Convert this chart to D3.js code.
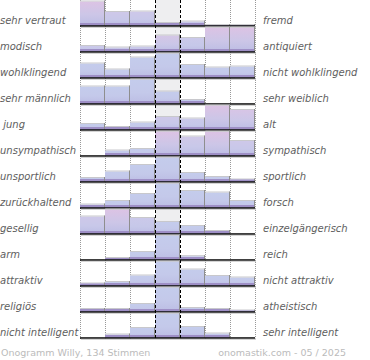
<!DOCTYPE html>
<html><head><meta charset="utf-8">
<script src="https://cdn.jsdelivr.net/npm/d3@7"></script>
<style>html,body{margin:0;padding:0;background:#fff;}svg{display:block;}</style>
</head><body>
<svg id="chart" width="370" height="360"></svg>
<script>
const leftLabels = ["sehr vertraut","modisch","wohlklingend","sehr männlich"," jung","unsympathisch","unsportlich","zurückhaltend","gesellig","arm","attraktiv","religiös","nicht intelligent"];
const rightLabels = ["fremd","antiquiert","nicht wohlklingend","sehr weiblich","alt","sympathisch","sportlich","forsch","einzelgängerisch","reich","nicht attraktiv","atheistisch","sehr intelligent"];
const scaleSteps = [1,2,3,4,5,6,7];
// relative vote shares per row (7 steps)
const row01 = [24, 13.5, 14, 2.5, 4, 0.4, 0.4];
const row02 = [5.5, 4, 5, 16, 13.5, 24, 24];
const row03 = [14, 8, 20, 24, 12.5, 10, 11];
const row04 = [17, 17, 24, 12, 3.5, 0, 0];
const row05 = [5.5, 2.5, 7, 12.5, 11, 24, 19.5];
const row06 = [0, 5, 6.5, 24, 19, 23.8, 14.5];
const row07 = [3.5, 10, 16.5, 24, 8.5, 4.5, 2];
const row08 = [3, 6.5, 13.5, 24, 16.5, 15, 6.5];
const row09 = [17, 24, 15.5, 11.5, 7.5, 2.5, 0];
const row10 = [0, 1.5, 7.5, 24, 3.3, 0, 0];
const row11 = [2, 3.5, 10, 24, 16, 9.5, 8];
const row12 = [2.5, 2.5, 7.5, 24, 3.5, 2.5, 1];
const row13 = [0, 3, 9.5, 24, 10.5, 4, 0];
const rows = [row01,row02,row03,row04,row05,row06,row07,row08,row09,row10,row11,row12,row13];
// pink tint of each bar (0 = blue, 1 = pink)
const tints = [
  [1,.4,.4,0,.3,0,0],[.3,.3,.3,.7,.3,1,1],[0,0,0,0,0,0,0],[0,0,0,0,0,0,0],
  [0,0,0,.4,.3,1,.8],[0,0,0,1,.5,1,.4],[0,0,0,0,0,0,0],[0,0,0,0,0,0,0],
  [.4,1,.3,0,0,0,0],[0,0,0,0,0,0,0],[0,0,0,0,0,0,0],[0,0,0,0,0,0,0],[0,0,0,0,0,0,0]];
const footerLeft = "Onogramm Willy, 134 Stimmen";
const footerRight = "onomastik.com - 05 / 2025";

const svg = d3.select("#chart");
const x0 = 80, x1 = 255, rowH = 26, firstBase = 25.5, barMax = 24;
const x = d3.scaleBand().domain(scaleSteps).range([x0, x1]).padding(0);
const rowY = d3.scaleLinear().domain([0, rows.length-1]).range([firstBase, firstBase + rowH*(rows.length-1)]);
const bottom = rowY(rows.length-1);

const defs = svg.append("defs");
const pinkTop = d3.color("#dcc3e4"), blueTop = d3.color("#c4ccec"), mid = d3.color("#c4c8e9");
function gradId(t){
  const id = "g" + Math.round(t*10);
  if (defs.select("#"+id).empty()) {
    const g = defs.append("linearGradient").attr("id", id).attr("x1",0).attr("y1",0).attr("x2",0).attr("y2",1);
    const top = d3.interpolateRgb(blueTop, pinkTop)(t);
    g.append("stop").attr("offset","0%").attr("stop-color", top);
    g.append("stop").attr("offset","55%").attr("stop-color", d3.interpolateRgb(mid, top)(0.35));
    g.append("stop").attr("offset","100%").attr("stop-color", "#bcbde4");
  }
  return id;
}

// grey middle column
svg.append("rect").attr("x", x(4)).attr("y", 0).attr("width", x.bandwidth()).attr("height", bottom)
  .attr("fill", "#eeeef0");

// dotted grid
svg.selectAll(".grid").data([x0, x(2), x(3), x(6), x(7), x1]).join("line")
  .attr("x1", d => d + 0.5).attr("x2", d => d + 0.5).attr("y1", 0).attr("y2", bottom + 1)
  .attr("stroke", "#999").attr("stroke-dasharray", "1,1");

// bars
rows.forEach((vals, i) => {
  const base = rowY(i);
  const y = d3.scaleLinear().domain([0, d3.max(vals)]).range([base, base - barMax]);
  const g = svg.append("g");
  vals.forEach((v, j) => {
    if (v <= 0) return;
    const bx = x(scaleSteps[j]), bw = x.bandwidth(), top = y(v), h = base - top;
    g.append("rect").attr("x", bx).attr("y", top).attr("width", bw).attr("height", h)
      .attr("fill", `url(#${gradId(tints[i][j])})`);
    g.append("line").attr("x1", bx).attr("x2", bx + bw).attr("y1", top - 0.5).attr("y2", top - 0.5)
      .attr("stroke", "#c8c8cc");
    g.append("rect").attr("x", bx).attr("y", base - Math.min(2.5, h)).attr("width", bw).attr("height", Math.min(2.5, h))
      .attr("fill", "#9e8fc6");
    g.append("line").attr("x1", bx + bw - 0.5).attr("x2", bx + bw - 0.5).attr("y1", top - 1).attr("y2", base)
      .attr("stroke", "#8e8e8e");
  });
  // baseline
  svg.append("line").attr("x1", x0).attr("x2", x1).attr("y1", base + 0.5).attr("y2", base + 0.5)
    .attr("stroke", "#000").attr("stroke-width", 1.3);
  svg.append("line").attr("x1", x0 + 1).attr("x2", x1 + 1).attr("y1", base + 1.8).attr("y2", base + 1.8)
    .attr("stroke", "#bbb").attr("stroke-width", 0.8);
  // labels
  svg.append("text").attr("x", 0).attr("y", base - 2).text(leftLabels[i])
    .attr("font-family", "DejaVu Sans").attr("font-style", "italic").attr("font-size", 10)
    .attr("fill", "#5e5e5e").attr("xml:space", "preserve").style("white-space", "pre");
  svg.append("text").attr("x", 263).attr("y", base - 2).text(rightLabels[i])
    .attr("font-family", "DejaVu Sans").attr("font-style", "italic").attr("font-size", 10)
    .attr("fill", "#5e5e5e");
});

// dashed middle lines
svg.selectAll(".dash").data([x(4), x(5)]).join("line")
  .attr("x1", d => d + 0.5).attr("x2", d => d + 0.5).attr("y1", 0).attr("y2", bottom + 1)
  .attr("stroke", "#000").attr("stroke-dasharray", "3,2");

// footer
svg.append("text").attr("x", 1).attr("y", 356).text(footerLeft)
  .attr("font-family", "DejaVu Sans").attr("font-size", 9.5).attr("fill", "#bbb");
svg.append("text").attr("x", 346).attr("y", 356).attr("text-anchor", "end").text(footerRight)
  .attr("font-family", "DejaVu Sans").attr("font-size", 9.5).attr("fill", "#bbb");
</script>
</body></html>
